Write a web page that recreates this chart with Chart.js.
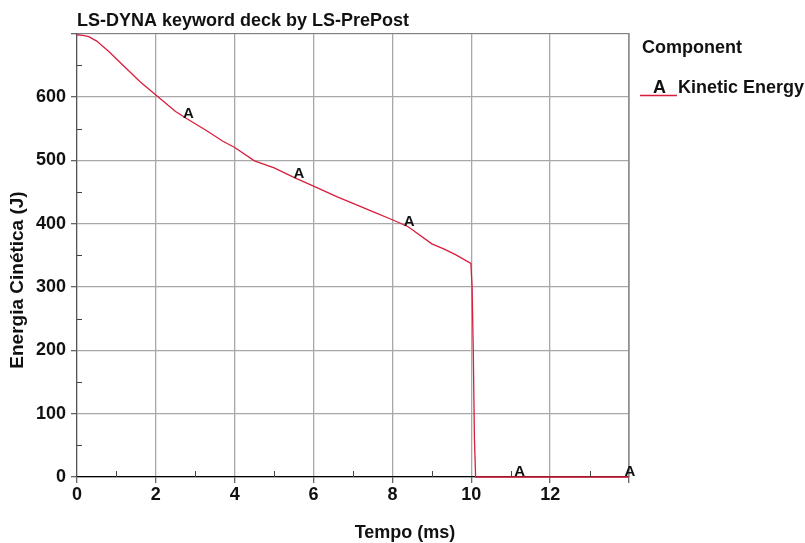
<!DOCTYPE html>
<html>
<head>
<meta charset="utf-8">
<script src="https://cdn.jsdelivr.net/npm/chart.js@4.4.1/dist/chart.umd.min.js"></script>
<style>
  html, body { margin: 0; padding: 0; background: #fff; }
  #wrap { width: 805px; height: 543px; }
</style>
</head>
<body>
<div id="wrap"><canvas id="chart" width="805" height="543"></canvas></div>
<script>
/* ===================== DATA ===================== */

const timeMs = [0, 0.15, 0.3, 0.5, 0.8, 1.2, 1.6, 2.0, 2.5, 2.8, 3.3, 3.7, 4.0, 4.5, 5.0, 5.5,
  6.0, 6.6, 7.0, 7.5, 8.0, 8.4, 9.0, 9.3, 9.6, 9.99, 10.02, 10.05, 10.08, 10.11, 10.2, 11, 12, 13, 14];
const energyJ = [698, 697, 695, 688, 672, 648, 624, 603, 577, 565, 546, 530, 520, 499, 488, 473,
  459, 442, 432, 419, 406, 395, 368, 360, 351, 337, 300, 200, 60, 0, 0, 0, 0, 0, 0];

const markerTime = [2.8, 5.6, 8.4, 11.2, 14.0];
const markerEnergy = [565, 471, 395, 0, 0];
const markerLetter = "A";

const xTicks = [0, 2, 4, 6, 8, 10, 12];
const yTicks = [0, 100, 200, 300, 400, 500, 600];
const xMinor = [1, 3, 5, 7, 9, 11, 13];
const yMinor = [50, 150, 250, 350, 450, 550, 650];

const titleText = "LS-DYNA keyword deck by LS-PrePost";
const xTitle = "Tempo (ms)";
const yTitle = "Energia Cinética (J)";
const legendHead = "Component";
const seriesName = "Kinetic Energy";

/* ===================== STYLE ===================== */

const FONT = '"Liberation Sans", Arial, sans-serif';
const INK = "#111";
const RED = "#d81e3c";

/* ===================== PLUGINS ===================== */

const decor = {
  id: "decor",
  afterDraw(chart) {
    const { ctx, chartArea: a, scales } = chart;
    const x = scales.x, y = scales.y;
    ctx.save();

    // frame top/right
    ctx.strokeStyle = "#808080";
    ctx.lineWidth = 1.2;
    ctx.beginPath();
    ctx.moveTo(a.left, a.top);
    ctx.lineTo(a.right, a.top);
    ctx.lineTo(a.right, a.bottom);
    ctx.stroke();

    // minor ticks
    ctx.strokeStyle = "#444";
    ctx.lineWidth = 1;
    ctx.beginPath();
    yMinor.forEach(v => {
      const py = Math.round(y.getPixelForValue(v)) + 0.5;
      ctx.moveTo(a.left, py);
      ctx.lineTo(a.left + 5, py);
    });
    xMinor.forEach(v => {
      const px = Math.round(x.getPixelForValue(v)) + 0.5;
      ctx.moveTo(px, a.bottom);
      ctx.lineTo(px, a.bottom - 6);
    });
    ctx.stroke();

    // marker letters
    const meta = chart.getDatasetMeta(1);
    ctx.fillStyle = INK;
    ctx.font = "bold 15px " + FONT;
    ctx.textAlign = "center";
    ctx.textBaseline = "alphabetic";
    meta.data.forEach(p => ctx.fillText(markerLetter, p.x + 1, p.y - 1));

    // title
    ctx.font = "bold 18px " + FONT;
    ctx.textAlign = "left";
    ctx.fillText(titleText, 77, 26);

    // axis titles
    ctx.textAlign = "center";
    ctx.fillText(xTitle, 405, 538);
    ctx.save();
    ctx.font = "bold 19px " + FONT;
    ctx.translate(23, 280);
    ctx.rotate(-Math.PI / 2);
    ctx.fillText(yTitle, 0, 0);
    ctx.restore();

    // legend
    ctx.textAlign = "left";
    ctx.fillText(legendHead, 642, 53);
    ctx.fillText(markerLetter, 653, 93);
    ctx.fillText(seriesName, 678, 93);
    ctx.strokeStyle = RED;
    ctx.lineWidth = 1.6;
    ctx.beginPath();
    ctx.moveTo(640, 95.5);
    ctx.lineTo(677, 95.5);
    ctx.stroke();

    ctx.restore();
  }
};

/* ===================== CHART ===================== */

new Chart(document.getElementById("chart"), {
  type: "line",
  data: {
    datasets: [
      {
        data: timeMs.map((t, i) => ({ x: t, y: energyJ[i] })),
        borderColor: RED,
        borderWidth: 1.3,
        pointRadius: 0,
        tension: 0,
        clip: false
      },
      {
        data: markerTime.map((t, i) => ({ x: t, y: markerEnergy[i] })),
        showLine: false,
        pointRadius: 0,
        clip: false
      }
    ]
  },
  options: {
    responsive: false,
    animation: false,
    layout: { padding: { left: 0, top: 33.5, right: 176, bottom: 0 } },
    plugins: { legend: { display: false }, tooltip: { enabled: false } },
    scales: {
      x: {
        type: "linear",
        min: 0, max: 14,
        afterFit(s) { s.height = 66; },
        afterBuildTicks(s) { s.ticks = xTicks.concat([14]).map(v => ({ value: v })); },
        ticks: {
          callback: v => (xTicks.includes(v) ? String(v) : ""),
          color: INK,
          font: { family: FONT, size: 18, weight: "bold" },
          padding: 1,
          maxRotation: 0,
          autoSkip: false
        },
        grid: { color: "#a8a8a8", lineWidth: 1.3, tickLength: 6, tickColor: "#666" },
        border: { color: "#000", width: 1.2 }
      },
      y: {
        min: 0, max: 700,
        afterFit(s) { s.width = 77; },
        afterBuildTicks(s) { s.ticks = yTicks.concat([700]).map(v => ({ value: v })); },
        ticks: {
          callback: v => (yTicks.includes(v) ? String(v) : ""),
          color: INK,
          font: { family: FONT, size: 18, weight: "bold" },
          padding: 5,
          autoSkip: false
        },
        grid: { color: "#a8a8a8", lineWidth: 1.3, tickLength: 6, tickColor: "#666" },
        border: { color: "#555", width: 1.2 }
      }
    }
  },
  plugins: [decor]
});
</script>
</body>
</html>
